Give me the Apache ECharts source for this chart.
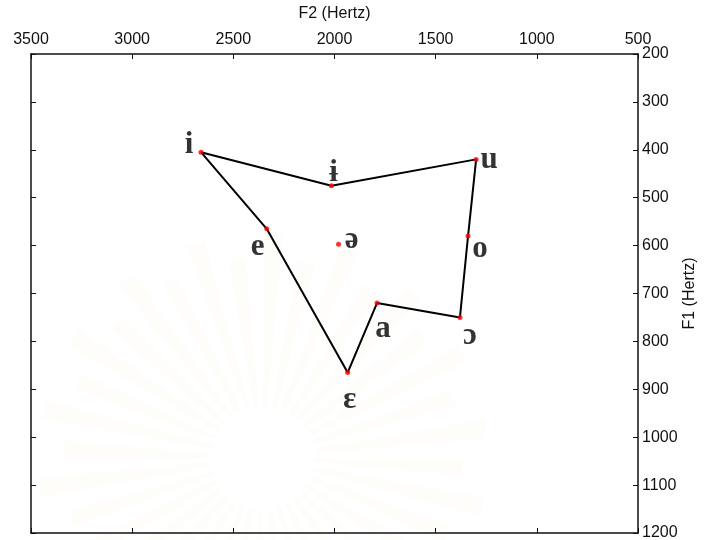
<!DOCTYPE html>
<html>
<head>
<meta charset="utf-8">
<script src="https://cdn.jsdelivr.net/npm/echarts@6/dist/echarts.min.js"></script>
<style>
  html, body { margin: 0; padding: 0; background: #fff; }
  #chart { width: 705px; height: 540px; }
</style>
</head>
<body>
<div id="chart"></div>
<script>
// vowel symbols and formants (F2, F1 in Hz)
var vowels = ['i', 'ɨ', 'u', 'e', 'ə', 'o', 'a', 'ɔ', 'ɛ'];
var f2 = [2660, 2015, 1300, 2335, 1980, 1340, 1790, 1380, 1935];
var f1 = [405, 475, 420, 565, 597, 580, 720, 750, 865];
// order of the vowel quadrilateral outline
var outline = ['i', 'ɨ', 'u', 'o', 'ɔ', 'a', 'ɛ', 'e', 'i'];

var f2Min = 500, f2Max = 3500, f2Step = 500;
var f1Min = 200, f1Max = 1200, f1Step = 100;

// where each label sits next to its dot (pixels)
var labelOffset = {
  'i': [-12, -7], 'ɨ': [2, -13], 'u': [13, 1], 'e': [-9, 18], 'ə': [13, -4],
  'o': [12, 13], 'a': [6, 26], 'ɔ': [10, 19], 'ɛ': [2, 27]
};

var chart = echarts.init(document.getElementById('chart'));

var points = vowels.map(function (v, i) {
  return {
    name: v,
    value: [f2[i], f1[i]],
    label: { offset: labelOffset[v] }
  };
});
var path = outline.map(function (v) {
  var i = vowels.indexOf(v);
  return [f2[i], f1[i]];
});

// faint watermark sunburst behind the plot
var rays = [];
for (var k = 0; k < 36; k++) {
  var a0 = k * 10;
  rays.push({
    type: 'sector',
    shape: { cx: 263, cy: 458, r0: 52, r: 200 + (k % 2) * 25, startAngle: a0 * Math.PI / 180, endAngle: (a0 + 5) * Math.PI / 180 },
    style: { fill: 'rgba(235,222,170,0.07)' },
    silent: true
  });
}

var axisCommon = {
  type: 'value',
  inverse: true,
  axisLine: { show: true, lineStyle: { color: '#111', width: 1.5 } },
  axisTick: { show: true, inside: true, length: 5, lineStyle: { color: '#111', width: 1 } },
  splitLine: { show: false }
};
var tickFont = { fontFamily: 'Liberation Sans, Arial', fontSize: 16, color: '#111' };

var option = {
  animation: false,
  backgroundColor: '#fff',
  graphic: [{ type: 'group', z: -10, children: rays }],
  grid: { left: 31, right: 67, top: 54, bottom: 7, containLabel: false, outerBoundsMode: 'none' },
  xAxis: [
    Object.assign({}, axisCommon, {
      position: 'top',
      min: f2Min, max: f2Max, interval: f2Step,
      name: 'F2 (Hertz)',
      nameLocation: 'middle',
      nameGap: 32,
      nameMoveOverlap: false,
      nameTextStyle: tickFont,
      axisLabel: Object.assign({ margin: 6, formatter: function (v) { return String(v); } }, tickFont)
    }),
    Object.assign({}, axisCommon, {
      position: 'bottom',
      min: f2Min, max: f2Max, interval: f2Step,
      axisLabel: { show: false }
    })
  ],
  yAxis: [
    Object.assign({}, axisCommon, {
      position: 'right',
      min: f1Min, max: f1Max, interval: f1Step,
      name: 'F1 (Hertz)',
      nameLocation: 'middle',
      nameRotate: 90,
      nameGap: 44,
      nameMoveOverlap: false,
      nameTextStyle: tickFont,
      axisLabel: Object.assign({ margin: 4, formatter: function (v) { return String(v); } }, tickFont)
    }),
    Object.assign({}, axisCommon, {
      position: 'left',
      min: f1Min, max: f1Max, interval: f1Step,
      axisLabel: { show: false }
    })
  ],
  series: [
    {
      type: 'line',
      data: path,
      symbol: 'none',
      lineStyle: { color: '#000', width: 2 },
      z: 2
    },
    {
      type: 'scatter',
      data: points,
      symbolSize: 5,
      itemStyle: { color: '#ff0000' },
      label: {
        show: true,
        position: 'inside',
        formatter: '{b}',
        fontFamily: 'Liberation Serif, DejaVu Serif, serif',
        fontWeight: 'bold',
        fontSize: 31,
        color: '#000',
        align: 'center',
        verticalAlign: 'middle'
      },
      z: 3
    }
  ]
};

chart.setOption(option);
</script>
</body>
</html>
